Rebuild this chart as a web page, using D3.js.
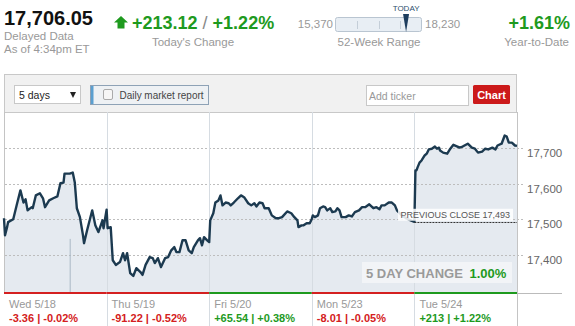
<!DOCTYPE html>
<html lang="en">
<head>
<meta charset="utf-8">
<title>DJIA - 5 days</title>
<script src="https://cdn.jsdelivr.net/npm/d3@7"></script>
<style>
  body { margin: 0; background: #fff; font-family: "Liberation Sans", Arial, sans-serif; }
  svg text { font-family: "Liberation Sans", Arial, sans-serif; }
</style>
</head>
<body>
<script>
// quote header
var lastPrice = 17706.05;
var todayChange = 213.12, todayPct = 1.22, ytdPct = 1.61;
var weekLow = 15370, weekHigh = 18230;
var prevClose = 17493, fiveDayPct = 1.00;

// bottom day strip
var days = ["Wed 5/18", "Thu 5/19", "Fri 5/20", "Mon 5/23", "Tue 5/24"];
var dayChange = [-3.36, -91.22, 65.54, -8.01, 213.12];
var dayLabels = ["-3.36 | -0.02%", "-91.22 | -0.52%", "+65.54 | +0.38%", "-8.01 | -0.05%", "+213 | +1.22%"];
var yTicks = [17400, 17500, 17600, 17700];

// intraday series, time in trading days since Wed open
var times = [
  0.00, 0.01, 0.03, 0.04, 0.09, 0.13, 0.16, 0.19, 0.21, 0.23, 0.27, 0.28, 0.31, 0.35, 0.38, 0.40,
  0.44, 0.48, 0.52, 0.55, 0.58, 0.59, 0.64, 0.67, 0.69, 0.71, 0.74, 0.77, 0.78, 0.81, 0.84, 0.86,
  0.89, 0.92, 0.96, 0.97, 1.00,
  1.01, 1.04, 1.06, 1.09, 1.13, 1.16, 1.18, 1.20, 1.23, 1.26, 1.29, 1.33, 1.35, 1.38, 1.42, 1.45,
  1.47, 1.50, 1.53, 1.57, 1.60, 1.63, 1.66, 1.68, 1.71, 1.74, 1.77, 1.80, 1.83, 1.85, 1.89, 1.91,
  1.93, 1.95, 1.98, 2.00,
  2.01, 2.04, 2.06, 2.09, 2.11, 2.13, 2.16, 2.19, 2.21, 2.24, 2.28, 2.31, 2.34, 2.38, 2.41, 2.44,
  2.46, 2.49, 2.52, 2.54, 2.58, 2.61, 2.65, 2.68, 2.71, 2.76, 2.80, 2.83, 2.86, 2.87, 2.90, 2.92,
  2.95, 2.98, 3.00,
  3.01, 3.03, 3.06, 3.08, 3.11, 3.13, 3.15, 3.18, 3.20, 3.23, 3.25, 3.27, 3.29, 3.33, 3.36, 3.39,
  3.42, 3.46, 3.49, 3.52, 3.56, 3.60, 3.63, 3.66, 3.68, 3.71, 3.75, 3.78, 3.81, 3.83, 3.88, 3.94,
  4.00,
  4.01, 4.02, 4.03, 4.05, 4.07, 4.10, 4.12, 4.14, 4.17, 4.20, 4.22, 4.24, 4.25, 4.28, 4.32, 4.35,
  4.38, 4.42, 4.44, 4.47, 4.52, 4.56, 4.59, 4.62, 4.66, 4.69, 4.72, 4.76, 4.79, 4.81, 4.85, 4.88,
  4.90, 4.92, 4.95, 4.98, 5.00
];
var prices = [
  17503, 17455, 17478, 17492, 17500, 17547, 17581, 17547, 17556, 17525, 17534, 17531, 17567, 17573, 17559, 17534,
  17553, 17559, 17564, 17601, 17603, 17628, 17628, 17631, 17603, 17531, 17506, 17455, 17433, 17469, 17503, 17525,
  17483, 17464, 17497, 17475, 17527,
  17475, 17478, 17385, 17372, 17380, 17405, 17385, 17405, 17349, 17341, 17363, 17352, 17344, 17372, 17394, 17391,
  17377, 17391, 17366, 17391, 17394, 17413, 17422, 17408, 17408, 17441, 17441, 17413, 17405, 17422, 17441, 17447,
  17427, 17450, 17441, 17436,
  17497, 17517, 17547, 17553, 17567, 17539, 17547, 17545, 17539, 17547, 17559, 17567, 17562, 17545, 17539, 17545,
  17536, 17547, 17545, 17531, 17531, 17511, 17503, 17503, 17506, 17522, 17517, 17506, 17497, 17478, 17483, 17483,
  17489, 17489, 17501,
  17511, 17506, 17511, 17531, 17536, 17534, 17525, 17531, 17520, 17522, 17531, 17525, 17506, 17506, 17511, 17508,
  17520, 17525, 17534, 17534, 17542, 17531, 17534, 17528, 17539, 17539, 17547, 17547, 17539, 17525, 17510, 17500,
  17493,
  17637, 17637, 17645, 17659, 17665, 17679, 17684, 17696, 17698, 17704, 17698, 17701, 17693, 17687, 17684, 17698,
  17709, 17704, 17701, 17704, 17712, 17701, 17698, 17687, 17690, 17698, 17696, 17701, 17696, 17707, 17712, 17735,
  17732, 17715, 17715, 17707, 17706
];

var w = 575, h = 326;
var green = "#1e9a1e", red = "#d42020", grey = "#999";
var series = times.map(function(t, i) { return { t: t, v: prices[i] }; });

var svg = d3.select("body").append("svg")
  .attr("width", w)
  .attr("height", h);

// ---------- header ----------
var fmt2 = d3.format(",.2f");
svg.append("text").attr("x", 4).attr("y", 25)
  .attr("font-size", "20px").attr("font-weight", "bold").attr("fill", "#111")
  .text(fmt2(lastPrice));
svg.append("text").attr("x", 4).attr("y", 40)
  .attr("font-size", "11.5px").attr("fill", grey).text("Delayed Data");
svg.append("text").attr("x", 4).attr("y", 53)
  .attr("font-size", "11.5px").attr("fill", grey).text("As of 4:34pm ET");

svg.append("path")
  .attr("d", "M121,16L128,22.5L124.5,22.5L124.5,28.5L117.5,28.5L117.5,22.5L114,22.5Z")
  .attr("fill", green);
var chg = svg.append("text").attr("x", 132).attr("y", 29)
  .attr("font-size", "18px").attr("font-weight", "bold").attr("fill", green);
chg.append("tspan").text("+" + todayChange.toFixed(2));
chg.append("tspan").attr("fill", "#888").attr("font-weight", "normal").text(" / ");
chg.append("tspan").text("+" + todayPct.toFixed(2) + "%");
svg.append("text").attr("x", 193).attr("y", 46).attr("text-anchor", "middle")
  .attr("font-size", "11.5px").attr("fill", grey).text("Today's Change");

// 52-week range
var rangeX = d3.scaleLinear().domain([weekLow, weekHigh]).range([335, 422]);
var fmt0 = d3.format(",");
svg.append("text").attr("x", 333).attr("y", 28).attr("text-anchor", "end")
  .attr("font-size", "11.5px").attr("fill", grey).text(fmt0(weekLow));
svg.append("text").attr("x", 425).attr("y", 28)
  .attr("font-size", "11.5px").attr("fill", grey).text(fmt0(weekHigh));
svg.append("rect").attr("x", 335.5).attr("y", 17.5).attr("width", 86).attr("height", 14)
  .attr("rx", 2).attr("fill", "#e8eef4").attr("stroke", "#b9c5d1");
svg.selectAll("line.q").data([0.25, 0.5, 0.75]).enter().append("line")
  .attr("x1", function(d) { return Math.round(rangeX(weekLow + d * (weekHigh - weekLow))) + 0.5; })
  .attr("x2", function(d) { return Math.round(rangeX(weekLow + d * (weekHigh - weekLow))) + 0.5; })
  .attr("y1", 21).attr("y2", 29).attr("stroke", "#c4ced8");
var mx = rangeX(lastPrice);
svg.append("path")
  .attr("d", "M" + (mx - 3) + ",14L" + (mx + 3) + ",14L" + (mx + 1) + ",26L" + mx + ",32L" + (mx - 1) + ",26Z")
  .attr("fill", "#1d3d5e");
svg.append("text").attr("x", mx).attr("y", 11).attr("text-anchor", "middle")
  .attr("font-size", "8px").attr("fill", "#2d4f6e").text("TODAY");
svg.append("text").attr("x", 379).attr("y", 46).attr("text-anchor", "middle")
  .attr("font-size", "11.5px").attr("fill", grey).text("52-Week Range");

svg.append("text").attr("x", 570).attr("y", 29).attr("text-anchor", "end")
  .attr("font-size", "18px").attr("font-weight", "bold").attr("fill", green)
  .text("+" + ytdPct.toFixed(2) + "%");
svg.append("text").attr("x", 569).attr("y", 46).attr("text-anchor", "end")
  .attr("font-size", "11.5px").attr("fill", grey).text("Year-to-Date");

// ---------- toolbar ----------
svg.append("rect").attr("x", 4.5).attr("y", 74.5).attr("width", 512).attr("height", 38)
  .attr("fill", "#f1f1f1").attr("stroke", "#c8c8c8");
svg.append("rect").attr("x", 14.5).attr("y", 85.5).attr("width", 66).attr("height", 18)
  .attr("fill", "#fff").attr("stroke", "#c8c8c8");
svg.append("text").attr("x", 19).attr("y", 98.5).attr("font-size", "10.5px").attr("fill", "#222").text("5 days");
svg.append("path").attr("d", "M70,92L76,92L73,98Z").attr("fill", "#222");

svg.append("rect").attr("x", 90.5).attr("y", 85.5).attr("width", 118).attr("height", 19)
  .attr("fill", "#eef1f4").attr("stroke", "#8ea2b6");
svg.append("rect").attr("x", 91).attr("y", 86).attr("width", 2.5).attr("height", 18).attr("fill", "#5a9fd0");
svg.append("rect").attr("x", 103.5).attr("y", 89.5).attr("width", 9).attr("height", 10)
  .attr("rx", 1.5).attr("fill", "#f6f6f6").attr("stroke", "#aaa");
svg.append("text").attr("x", 119.5).attr("y", 98.5).attr("font-size", "10.5px").attr("fill", "#444")
  .attr("textLength", 84).attr("lengthAdjust", "spacingAndGlyphs").text("Daily market report");

svg.append("rect").attr("x", 366.5).attr("y", 85.5).attr("width", 102).attr("height", 20)
  .attr("fill", "#fff").attr("stroke", "#c8c8c8");
svg.append("text").attr("x", 369).attr("y", 99.5).attr("font-size", "10.5px").attr("fill", "#999").text("Add ticker");
svg.append("rect").attr("x", 473).attr("y", 85).attr("width", 37).attr("height", 19)
  .attr("rx", 1.5).attr("fill", "#cc1a1a");
svg.append("text").attr("x", 491.5).attr("y", 98.5).attr("text-anchor", "middle")
  .attr("font-size", "11px").attr("font-weight", "bold").attr("fill", "#fff").text("Chart");

// ---------- chart ----------
var x = d3.scaleLinear().domain([0, 5]).range([4, 517]);
var y = d3.scaleLinear().domain([17296, 17801]).range([292, 112]);

var area = d3.area().x(function(d) { return x(d.t); }).y0(y.range()[0]).y1(function(d) { return y(d.v); });
var line = d3.line().x(function(d) { return x(d.t); }).y(function(d) { return y(d.v); });

svg.append("path").datum(series).attr("d", area).attr("fill", "#e5eaf0");

// dotted horizontal grid
svg.selectAll("line.grid").data(yTicks).enter().append("line")
  .attr("class", "grid")
  .attr("x1", 5).attr("x2", 524)
  .attr("y1", function(d) { return Math.round(y(d)) + 0.5; })
  .attr("y2", function(d) { return Math.round(y(d)) + 0.5; })
  .attr("stroke", "#bdbdbd").attr("stroke-dasharray", "2,2");

// day dividers
svg.selectAll("line.day").data(d3.range(1, 6)).enter().append("line")
  .attr("class", "day")
  .attr("x1", function(d) { return Math.round(x(d)) + 0.5; })
  .attr("x2", function(d) { return Math.round(x(d)) + 0.5; })
  .attr("y1", 112).attr("y2", 326)
  .attr("stroke", function(d) { return d === 5 ? "#c4c4c4" : "#d6dce2"; });
svg.append("line").attr("x1", 4.5).attr("x2", 4.5).attr("y1", 112).attr("y2", 292).attr("stroke", "#c4c4c4");

// thin marker in Wed session
svg.append("line").attr("x1", x(0.645)).attr("x2", x(0.645)).attr("y1", y(17445)).attr("y2", 292)
  .attr("stroke", "#a9b8c6");

svg.append("path").datum(series).attr("d", line)
  .attr("fill", "none").attr("stroke", "#1c3a50").attr("stroke-width", 2.4)
  .attr("stroke-linejoin", "round");

// previous close
svg.append("line").attr("x1", x(4)).attr("x2", x(5))
  .attr("y1", Math.round(y(prevClose)) + 0.5).attr("y2", Math.round(y(prevClose)) + 0.5)
  .attr("stroke", "#333").attr("stroke-dasharray", "2,1");
svg.append("rect").attr("x", 398).attr("y", y(prevClose) - 13).attr("width", 115).attr("height", 12)
  .attr("fill", "#fff").attr("opacity", 0.85);
svg.append("text").attr("x", 510).attr("y", y(prevClose) - 3.5).attr("text-anchor", "end")
  .attr("font-size", "9px").attr("fill", "#555").text("PREVIOUS CLOSE " + fmt0(prevClose));

// y axis labels
var yAxis = d3.axisRight(y).tickValues(yTicks).tickFormat(fmt0).tickSize(0).tickPadding(0);
var ag = svg.append("g").attr("transform", "translate(527,5)").call(yAxis);
ag.select(".domain").remove();
ag.selectAll("text").attr("font-size", "11.5px").attr("fill", "#666")
  .attr("font-family", "Liberation Sans, Arial, sans-serif");

// 5 day change box
svg.append("rect").attr("x", 362).attr("y", 262).attr("width", 150).attr("height", 21)
  .attr("fill", "#f3f5f7").attr("opacity", 0.9);
var fd = svg.append("text").attr("x", 366).attr("y", 277.5).attr("font-size", "13px").attr("font-weight", "bold");
fd.append("tspan").attr("fill", "#9a9a9a").text("5 DAY CHANGE ");
fd.append("tspan").attr("fill", green).attr("dx", 3).text(fiveDayPct.toFixed(2) + "%");

// day colour strip
svg.append("line").attr("x1", x(5)).attr("x2", 562).attr("y1", 293.5).attr("y2", 293.5).attr("stroke", "#bbb");
svg.selectAll("rect.strip").data(dayChange).enter().append("rect")
  .attr("class", "strip")
  .attr("x", function(d, i) { return x(i); })
  .attr("width", function(d, i) { return x(i + 1) - x(i); })
  .attr("y", 292).attr("height", 2)
  .attr("fill", function(d) { return d < 0 ? red : green; });

svg.selectAll("text.day").data(days).enter().append("text")
  .attr("class", "day")
  .attr("x", function(d, i) { return x(i) + 5; })
  .attr("y", 307.5)
  .attr("font-size", "11px").attr("fill", grey)
  .text(function(d) { return d; });
svg.selectAll("text.chg").data(dayLabels).enter().append("text")
  .attr("class", "chg")
  .attr("x", function(d, i) { return x(i) + 5; })
  .attr("y", 322)
  .attr("font-size", "11px").attr("font-weight", "bold")
  .attr("fill", function(d, i) { return dayChange[i] < 0 ? red : green; })
  .text(function(d) { return d; });
</script>
</body>
</html>
